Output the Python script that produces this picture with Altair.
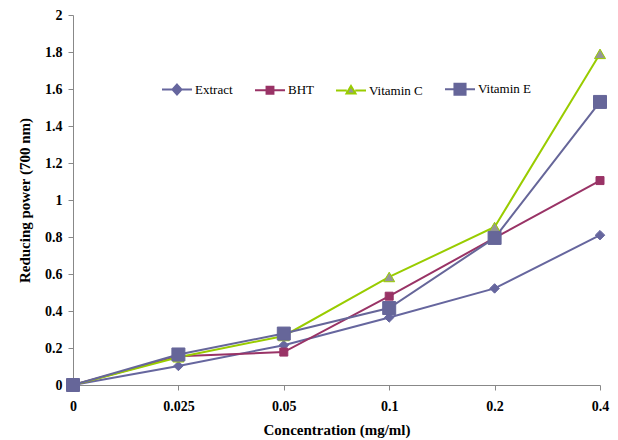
import altair as alt
import pandas as pd

concentrations = ["0", "0.025", "0.05", "0.1", "0.2", "0.4"]
series_names = ["Extract", "BHT", "Vitamin C", "Vitamin E"]
extract = [0.0, 0.103, 0.215, 0.365, 0.522, 0.81]
bht = [0.0, 0.155, 0.178, 0.48, 0.795, 1.105]
vitamin_c = [0.0, 0.15, 0.265, 0.584, 0.854, 1.79]
vitamin_e = [0.0, 0.165, 0.278, 0.416, 0.795, 1.53]
y_ticks = [0, 0.2, 0.4, 0.6, 0.8, 1, 1.2, 1.4, 1.6, 1.8, 2]

line_colors = ["#66669E", "#993366", "#99CC00", "#666699"]
fill_colors = ["#66669E", "#993366", "#969696", "#666699"]
shapes = ["diamond", "square", "triangle-up", "square"]
sizes = [90, 64, 121, 169]
legend_paths = [
    "M-1,0H-0.3M0.3,0H1M0,-0.33L0.3,0L0,0.33L-0.3,0Z",
    "M-1,0H-0.23M0.23,0H1M-0.23,-0.23H0.23V0.23H-0.23Z",
    "M-1,0H-0.28M0.28,0H1M0,-0.3L0.3,0.2H-0.3Z",
    "M-1,0H-0.37M0.37,0H1M-0.37,-0.37H0.37V0.37H-0.37Z",
]

rows = []
for name, vals in zip(series_names, [extract, bht, vitamin_c, vitamin_e]):
    for c, v in zip(concentrations, vals):
        rows.append({"conc": c, "value": v, "series": name})
df = pd.DataFrame(rows)

FONT = "Liberation Serif"

x_enc = alt.X("conc:N", sort=concentrations,
              scale=alt.Scale(type="point", padding=0),
              axis=alt.Axis(title="Concentration (mg/ml)", labelAngle=0,
                            labelPadding=9, titlePadding=9))
y_enc = alt.Y("value:Q", scale=alt.Scale(domain=[0, 2], nice=False),
              axis=alt.Axis(title="Reducing power (700 nm)", values=y_ticks,
                            format="~g", labelPadding=6, titlePadding=12))

base = alt.Chart(df)

series_layers = []
for i, name in enumerate(series_names):
    sub = base.transform_filter(alt.datum.series == name)
    series_layers.append(
        sub.mark_line(strokeWidth=2, color=line_colors[i]).encode(x=x_enc, y=y_enc)
    )
for i, name in enumerate(series_names):
    sub = base.transform_filter(alt.datum.series == name)
    series_layers.append(
        sub.mark_point(
            filled=True, shape=shapes[i], size=sizes[i], fill=fill_colors[i],
            stroke=line_colors[i], strokeWidth=1, opacity=1
        ).encode(x=x_enc, y=y_enc)
    )

# legend-only layer: its marks sit outside the plot and are clipped away
legend_layer = base.transform_calculate(value="-1").mark_point(
    filled=True, strokeWidth=2, clip=True, opacity=1
).encode(
    x=x_enc, y=y_enc,
    fill=alt.Fill("series:N", scale=alt.Scale(domain=series_names, range=fill_colors),
                  legend=alt.Legend(title=None)),
    stroke=alt.Stroke("series:N", scale=alt.Scale(domain=series_names, range=line_colors),
                      legend=alt.Legend(title=None)),
    shape=alt.Shape("series:N", scale=alt.Scale(domain=series_names, range=legend_paths),
                    legend=alt.Legend(title=None)),
)

chart = alt.layer(*series_layers, legend_layer).properties(
    width=527, height=370,
    autosize=alt.AutoSizeParams(type="none"),
    padding={"left": 65, "top": 7, "right": 10, "bottom": 55},
).configure_view(stroke=None).configure_axis(
    grid=False,
    domainColor="#888888",
    tickColor="#888888",
    tickSize=5,
    labelFont=FONT,
    labelFontSize=14,
    labelFontWeight="bold",
    labelColor="black",
    titleFont=FONT,
    titleFontSize=15,
    titleFontWeight="bold",
    titleColor="black",
).configure_legend(
    orient="none", direction="horizontal",
    legendX=88, legendY=58, symbolSize=900,
    symbolStrokeWidth=2, symbolOpacity=1, labelOffset=2,
    columnPadding=18, padding=0,
    labelFont=FONT, labelFontSize=13, labelColor="black",
)

chart.save("out.html", embed_options={"renderer": "svg", "actions": False})
